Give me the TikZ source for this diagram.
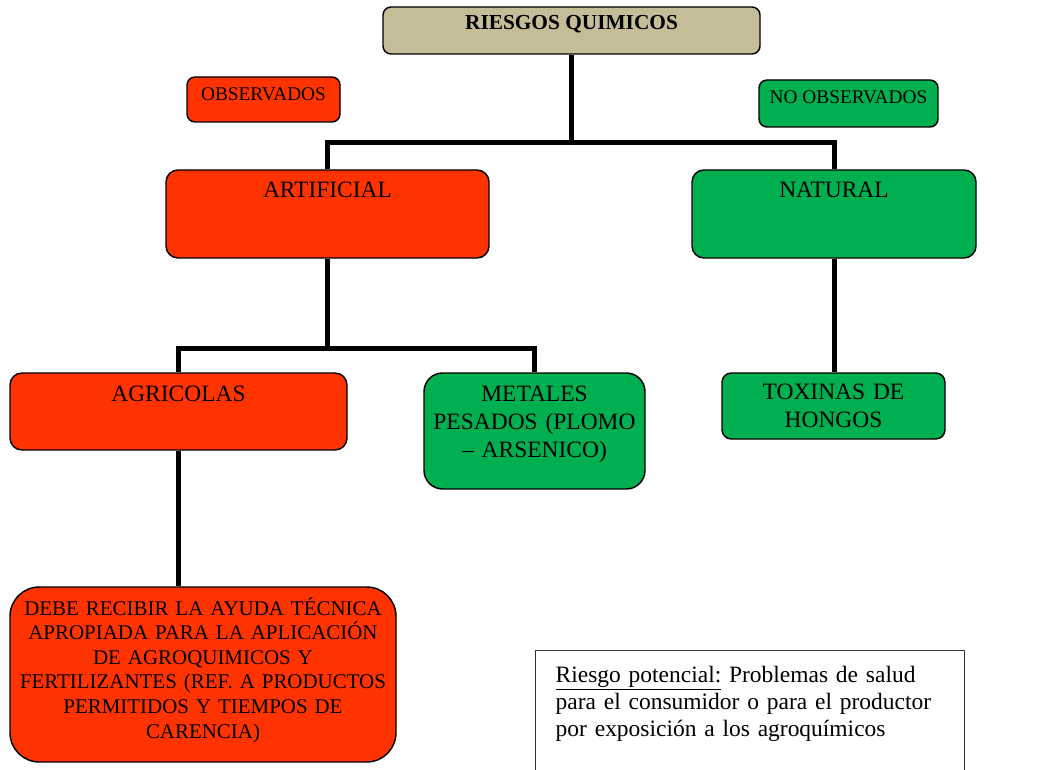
\documentclass[tikz,border=0pt]{standalone}
\usepackage{fontspec}
\setmainfont{Liberation Serif}
\definecolor{rojo}{HTML}{FF3300}
\definecolor{verde}{HTML}{00B050}
\definecolor{tostado}{HTML}{C4BD97}
\begin{document}
\begin{tikzpicture}[x=0.75pt,y=-0.75pt]
	\tikzstyle{caja}=[draw=black, line width=1.1pt, rounded corners=6pt, inner sep=0pt, align=center]
	\tikzstyle{grande}=[font=\fontsize{17.6}{21}\selectfont]
	\tikzstyle{chica}=[font=\fontsize{14.5}{17}\selectfont]
	\tikzstyle{rama}=[line width=3.75pt]
	\useasboundingbox (0,0) rectangle (1049,770);
	\clip (0,0) rectangle (1049,770);
	% cajas
	\node [caja, fill=tostado, minimum width=282.75pt, minimum height=35.25pt, text height=17.25pt, text depth=18pt, font=\fontsize{16}{19}\selectfont\bfseries] (raiz) at (571.5,30.5) {RIESGOS QUIMICOS};
	\node [caja, chica, fill=rojo, minimum width=114.75pt, minimum height=33.75pt, text height=17.5pt, text depth=16.25pt] (obs) at (263.5,99.5) {OBSERVADOS};
	\node [caja, chica, fill=verde, minimum width=134.25pt, minimum height=35.25pt, text height=17.5pt, text depth=17.75pt] (noobs) at (848.5,103.5) {NO OBSERVADOS};
	\node [caja, grande, fill=rojo, rounded corners=9pt, minimum width=242.25pt, minimum height=66pt, text height=21pt, text depth=45pt] (artificial) at (327.5,214) {ARTIFICIAL};
	\node [caja, grande, fill=verde, rounded corners=9pt, minimum width=213pt, minimum height=66pt, text height=21pt, text depth=45pt] (natural) at (834,214) {NATURAL};
	\node [caja, grande, fill=rojo, rounded corners=9pt, minimum width=252.75pt, minimum height=57.75pt, text height=21pt, text depth=36.75pt] (agricolas) at (178.5,411.5) {AGRICOLAS};
	\node [caja, grande, fill=verde, rounded corners=14pt, minimum width=165.75pt, text width=160pt, text height=21pt, text depth=66pt] (metales) at (534.5,431) {METALES\\PESADOS (PLOMO\\– ARSENICO)};
	\node [caja, grande, fill=verde, rounded corners=7pt, minimum width=167.25pt, text width=160pt, text height=19.5pt, text depth=30pt] (toxinas) at (833.5,406) {TOXINAS DE\\HONGOS};
	\node [caja, fill=rojo, rounded corners=22pt, minimum width=289.5pt, text width=285pt, text height=21pt, text depth=110.25pt, font=\fontsize{15.7}{18.45}\selectfont] (debe) at (203,674.5) {DEBE RECIBIR LA AYUDA TÉCNICA\\APROPIADA PARA LA APLICACIÓN\\DE AGROQUIMICOS Y\\FERTILIZANTES (REF. A PRODUCTOS\\PERMITIDOS Y TIEMPOS DE\\CARENCIA)};
	\node [draw=black!80, line width=1.1pt, anchor=north west, inner xsep=15pt, inner ysep=0pt, text width=291.75pt, align=left, text height=24pt, text depth=66.75pt, font=\fontsize{17.6}{20.25}\selectfont] (riesgo) at (535,650) {\underline{Riesgo potencial:} Problemas de salud\\para el consumidor o para el productor\\por exposición a los agroquímicos};
	% ramas
	\coordinate (bus1) at (571.5,143);
	\coordinate (bus2) at (327.5,348);
	\draw [rama] (raiz.south) -- (bus1);
	\draw [rama] (artificial.north) |- (bus1) -| (natural.north);
	\draw [rama] (artificial.south) -- (bus2);
	\draw [rama] (agricolas.north) |- (bus2) -| (metales.north);
	\draw [rama] (natural.south) -- (natural.south |- toxinas.north);
	\draw [rama] (agricolas.south) -- (agricolas.south |- debe.north);
\end{tikzpicture}
\end{document}
